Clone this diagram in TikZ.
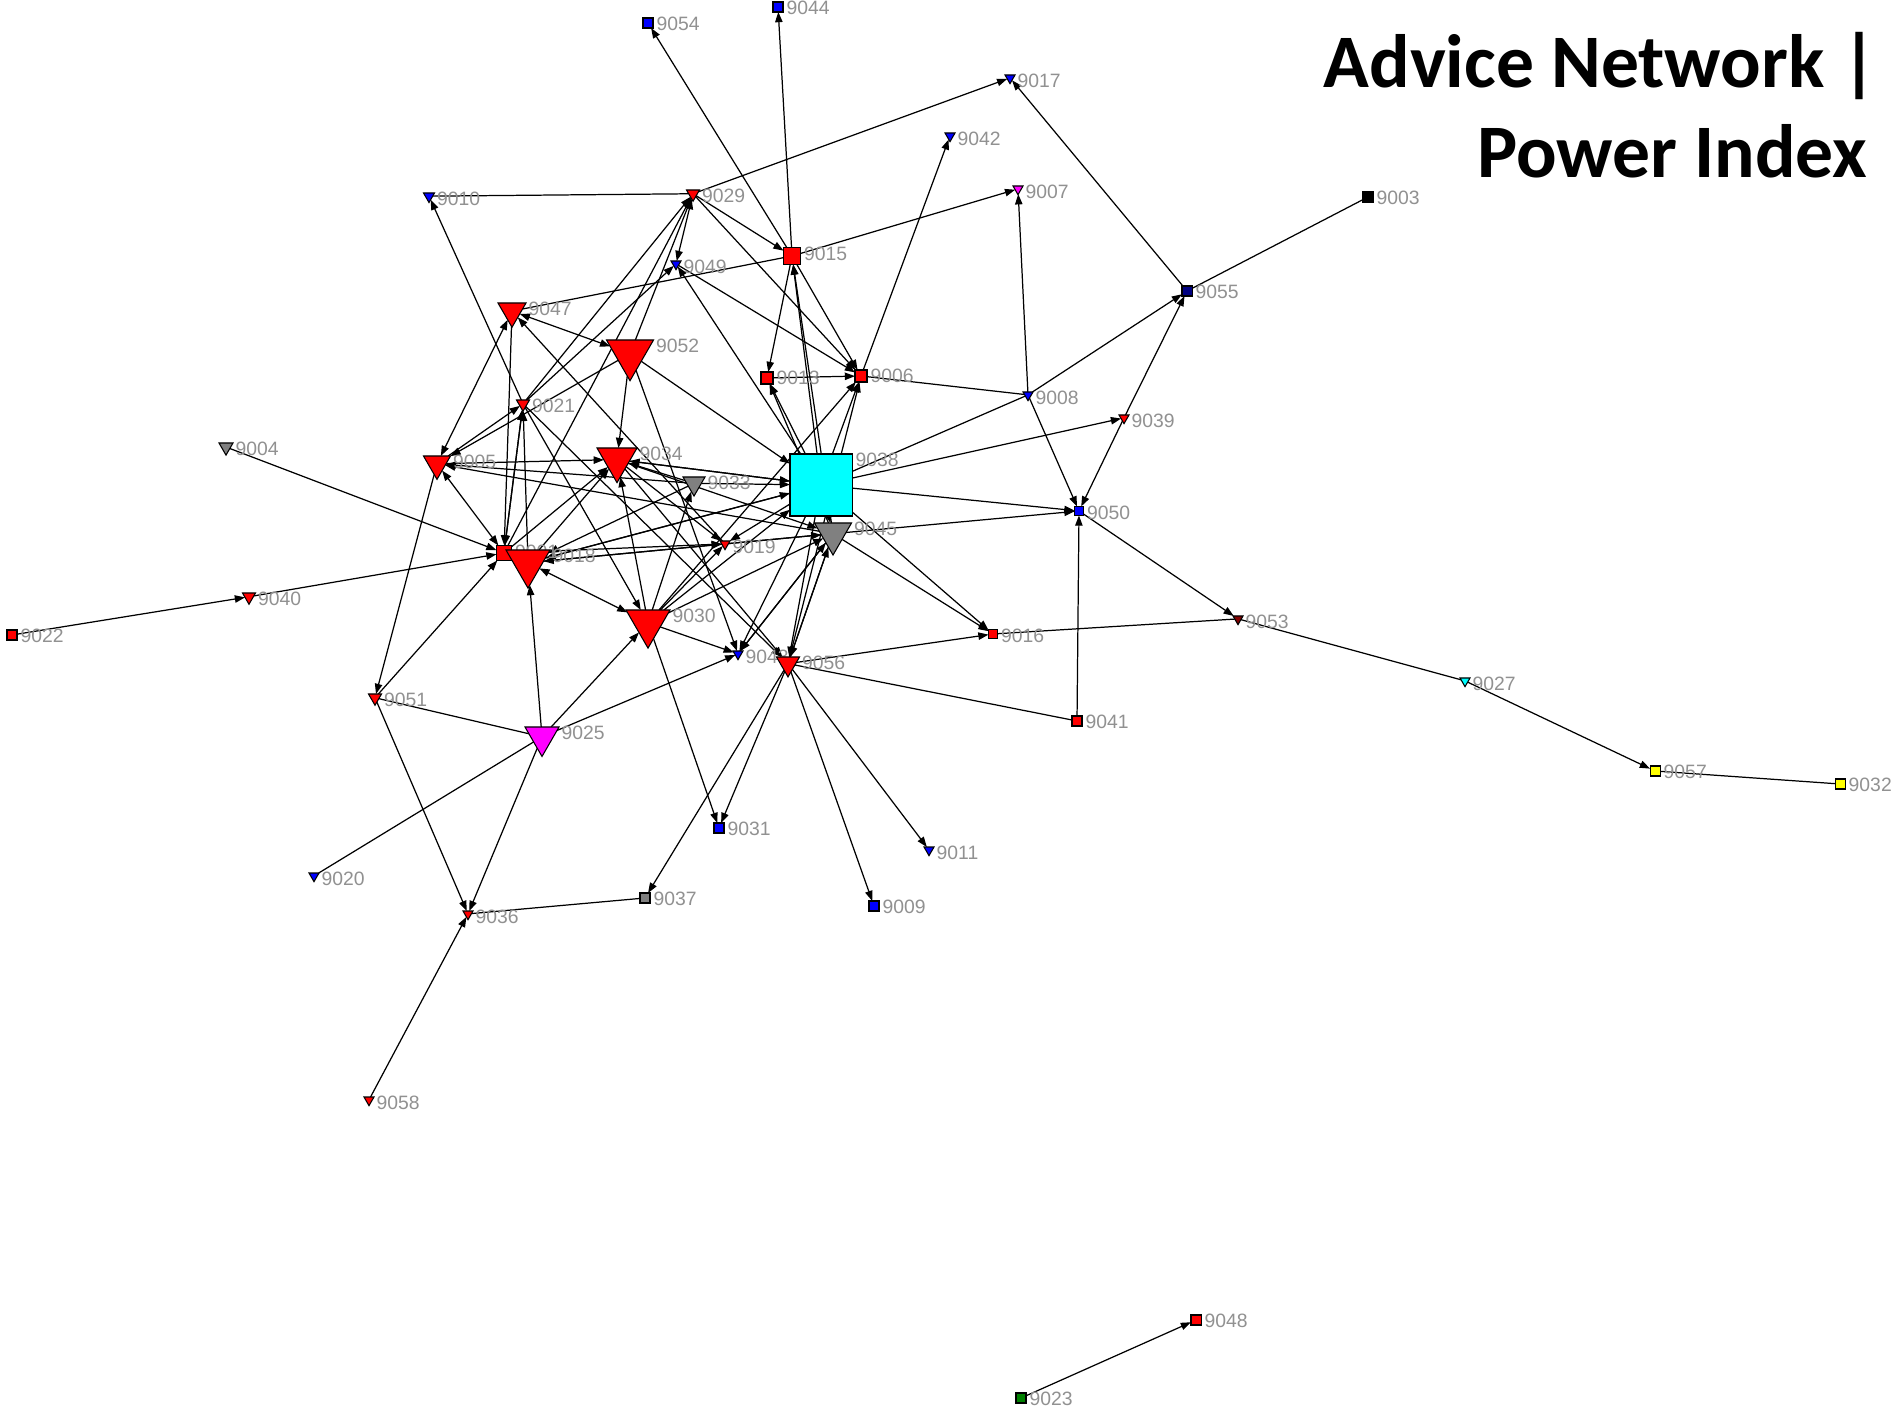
\documentclass[tikz,border=0pt]{standalone}
\usepackage{fontspec}
\usetikzlibrary{shapes.geometric,arrows.meta}
\newfontfamily\lblfont{Liberation Sans}
\newfontfamily\ttlfont{Carlito}
\definecolor{nred}{RGB}{255,0,0}
\definecolor{nblue}{RGB}{0,0,255}
\definecolor{ngray}{RGB}{128,128,128}
\definecolor{ncyan}{RGB}{0,255,255}
\definecolor{nmag}{RGB}{255,0,255}
\definecolor{nyel}{RGB}{255,255,0}
\definecolor{ngreen}{RGB}{0,128,0}
\definecolor{nnavy}{RGB}{0,0,128}
\definecolor{nmaroon}{RGB}{128,0,0}
\definecolor{nblack}{RGB}{0,0,0}
\definecolor{labgray}{RGB}{145,145,145}
\pgfdeclarelayer{back}
\pgfdeclarelayer{bg}
\pgfsetlayers{back,bg,main}
\tikzset{
  trinode/.style={regular polygon, regular polygon sides=3, shape border rotate=180, draw=black, line width=0.3pt, inner sep=0pt, outer sep=0pt},
  sqnode/.style={rectangle, draw=black, line width=0.3pt, inner sep=0pt, outer sep=0pt},
  lbl/.style={anchor=west, inner sep=0pt, text=labgray, font=\lblfont\fontsize{5.5}{6}\selectfont},
  lnk/.style={draw=black, line width=0.35pt},
  arr/.style={-{Triangle[length=2.9pt,width=2.1pt]}},
  barr/.style={{Triangle[length=2.9pt,width=2.1pt]}-{Triangle[length=2.9pt,width=2.1pt]}},
  ttl/.style={anchor=base east, inner sep=0pt, font=\ttlfont\bfseries\fontsize{21.5}{26}\selectfont}
}
\newcommand{\mktri}[5]{%
  \pgfmathsetmacro{\tR}{#4/sqrt(3)}%
  \pgfmathsetmacro{\tcy}{#3+\tR/2}%
  \pgfmathsetmacro{\tms}{2*\tR*0.28453}%
  \node[trinode, fill=#5, minimum size=\tms pt] (n#1) at (#2,\tcy) {};%
  \node[lbl] (l#1) at ({#2+#4/2+2},{#3+6}) {#1};%
}
\newcommand{\mksq}[5]{%
  \pgfmathsetmacro{\sms}{#4*0.28453}%
  \node[sqnode, fill=#5, minimum size=\sms pt] (n#1) at (#2,#3) {};%
  \node[lbl] (l#1) at ({#2+#4/2+3},{#3-#4/2+6}) {#1};%
}
\begin{document}
\begin{tikzpicture}[x=0.01cm,y=-0.01cm]
\useasboundingbox (0,0) rectangle (1892,1410);
\begin{pgfonlayer}{back}
\fill[white] (0,0) rectangle (1892,1410);
\end{pgfonlayer}

% title
\node[ttl] (title1) at (1878,88) {Advice Network |};
\node[ttl] (title2) at (1868,178) {Power Index};

% squares
\mksq{9054}{648}{23}{10}{nblue}
\mksq{9044}{778}{7}{10}{nblue}
\mksq{9003}{1368}{197}{10}{nblack}
\mksq{9055}{1187}{291}{10}{nnavy}
\mksq{9015}{792}{256}{17}{nred}
\mksq{9013}{767}{378}{12}{nred}
\mksq{9006}{861}{376}{12}{nred}
\mksq{9050}{1079}{511}{9}{nblue}
\mksq{9016}{993}{634}{9}{nred}
\mksq{9041}{1077}{721}{10}{nred}
\mksq{9031}{719}{828}{10}{nblue}
\mksq{9009}{874}{906}{10}{nblue}
\mksq{9037}{645}{898}{10}{ngray}
\mksq{9057}{1655}{771}{10}{nyel}
\mksq{9032}{1840}{784}{10}{nyel}
\mksq{9022}{12}{635}{10}{nred}
\mksq{9048}{1196}{1320}{10}{nred}
\mksq{9023}{1021}{1398}{10}{ngreen}
\mksq{9001}{504}{553}{15}{nred}
\mksq{9038}{821}{485}{62}{ncyan}

% triangles
\mktri{9010}{429}{193}{11}{nblue}
\mktri{9029}{693}{190}{13}{nred}
\mktri{9049}{676}{261}{10}{nblue}
\mktri{9017}{1010}{75}{10}{nblue}
\mktri{9042}{950}{133}{10}{nblue}
\mktri{9007}{1018}{186}{10}{nmag}
\mktri{9008}{1028}{392}{10}{nblue}
\mktri{9039}{1124}{415}{10}{nred}
\mktri{9004}{226}{443}{14}{ngray}
\mktri{9040}{249}{593}{13}{nred}
\mktri{9051}{375}{694}{13}{nred}
\mktri{9036}{468}{911}{10}{nred}
\mktri{9058}{369}{1097}{10}{nred}
\mktri{9020}{314}{873}{10}{nblue}
\mktri{9011}{929}{847}{10}{nblue}
\mktri{9027}{1465}{678}{10}{ncyan}
\mktri{9053}{1238}{616}{10}{nmaroon}
\mktri{9019}{725}{541}{10}{nred}
\mktri{9043}{738}{651}{10}{nblue}
\mktri{9021}{523}{400}{13}{nred}
\mktri{9047}{512}{303}{28}{nred}
\mktri{9052}{630}{340}{47}{nred}
\mktri{9005}{437}{456}{27}{nred}
\mktri{9034}{617}{448}{40}{nred}
\mktri{9033}{694}{477}{22}{ngray}
\mktri{9045}{833}{523}{37}{ngray}
\mktri{9018}{528}{550}{44}{nred}
\mktri{9030}{648}{610}{44}{nred}
\mktri{9056}{788}{657}{23}{nred}
\mktri{9025}{542}{727}{34}{nmag}

\begin{pgfonlayer}{bg}
\foreach \a/\b in {9022/9040, 9040/9001, 9004/9001, 9051/9001, 9005/9051, 9051/9036, 9025/9036, 9058/9036,
  9056/9037, 9056/9031, 9030/9031, 9056/9009, 9056/9011, 9041/9050, 9056/9016, 9038/9016, 9045/9016,
  9050/9053, 9027/9057, 9023/9048, 9025/9043, 9025/9018, 9025/9030,
  9015/9054, 9015/9044, 9015/9007, 9029/9017, 9055/9017, 9008/9055, 9039/9055, 9039/9050, 9008/9050,
  9008/9007, 9006/9042, 9038/9039, 9038/9050, 9045/9050,
  9021/9010, 9029/9015, 9029/9006, 9021/9029, 9052/9029, 9001/9029, 9049/9006, 9038/9049, 9021/9049,
  9015/9013, 9015/9006, 9038/9015, 9045/9015, 9013/9006, 9038/9013, 9045/9013, 9038/9006, 9056/9006, 9030/9006,
  9052/9034, 9052/9038, 9052/9043, 9052/9005, 9047/9001, 9019/9047,
  9005/9021, 9001/9021, 9018/9021, 9021/9030, 9021/9056,
  9018/9034, 9038/9018, 9033/9018, 9045/9018, 9018/9038, 9018/9019, 9001/9019,
  9001/9034, 9005/9034, 9045/9005, 9033/9005,
  9033/9034, 9038/9034, 9030/9034, 9034/9019, 9034/9045, 9034/9056, 9034/9038,
  9033/9038, 9030/9033,
  9038/9019, 9030/9038, 9038/9043, 9038/9056, 9045/9056, 9056/9045, 9043/9045, 9030/9045, 9019/9045, 9038/9045,
  9030/9019, 9045/9043, 9030/9043}
  \draw[lnk,arr] (n\a) -- (n\b);
\foreach \a/\b in {9029/9049, 9047/9052, 9047/9005, 9001/9005, 9018/9030, 9021/9001}
  \draw[lnk,barr] (n\a) -- (n\b);
\foreach \a/\b in {9051/9025, 9036/9037, 9056/9041, 9016/9053, 9053/9027, 9057/9032, 9020/9025,
  9003/9055, 9006/9008, 9010/9029, 9047/9015, 9008/9038}
  \draw[lnk] (n\a) -- (n\b);
\end{pgfonlayer}
\end{tikzpicture}
\end{document}
